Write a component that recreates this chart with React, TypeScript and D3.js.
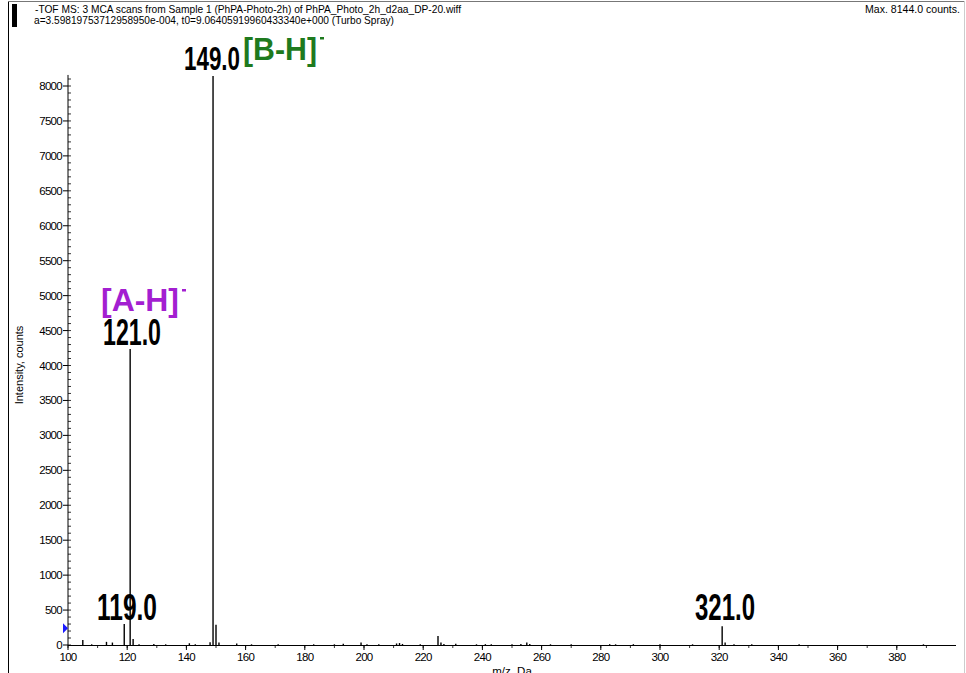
import React from "react";
import * as d3 from "d3";

const headerLine1 = "-TOF MS: 3 MCA scans from Sample 1 (PhPA-Photo-2h) of PhPA_Photo_2h_d2aa_DP-20.wiff";
const headerLine2 = "a=3.59819753712958950e-004, t0=9.06405919960433340e+000 (Turbo Spray)";
const maxLabel = "Max. 8144.0 counts.";
const xTicks = [100, 120, 140, 160, 180, 200, 220, 240, 260, 280, 300, 320, 340, 360, 380];
const yTicks = [0, 500, 1000, 1500, 2000, 2500, 3000, 3500, 4000, 4500, 5000, 5500, 6000, 6500, 7000, 7500, 8000];
const peakMz = [105, 108, 113, 115, 119, 121, 122, 124, 129, 133, 141, 143, 148, 149, 150, 151, 157, 162, 171, 183, 190, 193, 199, 201, 205, 211, 212, 213, 219, 225, 226, 227, 231, 238, 241, 243, 250, 253, 255, 256, 263, 270, 283, 285, 291, 300, 311, 321, 322, 325, 331, 347, 389];
const peakInt = [70, 10, 45, 35, 300, 4236, 85, 10, 15, 10, 25, 12, 40, 8144, 290, 35, 20, 10, 10, 10, 10, 18, 35, 12, 10, 22, 28, 15, 10, 130, 35, 15, 18, 10, 12, 10, 10, 15, 35, 15, 10, 10, 12, 10, 12, 10, 10, 270, 35, 10, 12, 10, 10];

const markerValue = 240;

export default function App() {
  const W = 966, H = 673;
  const x = d3.scaleLinear().domain([100, 400]).range([68, 956]);
  const y = d3.scaleLinear().domain([0, 8000]).range([645, 86]);
  const minorX = d3.range(100, 400, 10);
  const minorY = d3.range(0, 8200, 100);
  const font = "'Liberation Sans', Arial, sans-serif";
  const narrow = "'Liberation Sans Narrow', 'Liberation Sans', Arial, sans-serif";
  return (
    <svg width={W} height={H} style={{ position: "absolute", left: 0, top: 0, background: "#fff" }}>
      <rect x={0} y={0} width={W} height={H} fill="#fff" />
      {/* frame */}
      <line x1={8.5} y1={1} x2={8.5} y2={H} stroke="#000" strokeWidth={1} />
      <line x1={8} y1={1.5} x2={965} y2={1.5} stroke="#777" strokeWidth={1} />
      <line x1={964.5} y1={1} x2={964.5} y2={H} stroke="#ccc" strokeWidth={1} />
      <rect x={12} y={4} width={5} height={23} fill="#000" />
      <text x={35} y={13} fontFamily={narrow} fontSize={11} textLength={426} lengthAdjust="spacingAndGlyphs">{headerLine1}</text>
      <text x={34} y={24} fontFamily={narrow} fontSize={11} textLength={360} lengthAdjust="spacingAndGlyphs">{headerLine2}</text>
      <text x={960} y={13} fontFamily={narrow} fontSize={11} textAnchor="end" textLength={95} lengthAdjust="spacingAndGlyphs">{maxLabel}</text>

      {/* y axis */}
      <line x1={68} y1={y(8144) - 1} x2={68} y2={645} stroke="#000" />
      {minorY.map((v) => (
        <line key={"my" + v} x1={68} x2={71} y1={y(v)} y2={y(v)} stroke="#000" strokeWidth={0.8} />
      ))}
      {yTicks.map((v) => (
        <g key={"y" + v}>
          <line x1={63} x2={68} y1={y(v)} y2={y(v)} stroke="#000" />
          <text x={62} y={y(v) + 4} fontFamily={font} fontSize={11.5} textAnchor="end" letterSpacing={-0.7}>{v}</text>
        </g>
      ))}
      <text transform={`translate(23,${365}) rotate(-90)`} fontFamily={font} fontSize={11} textAnchor="middle">Intensity, counts</text>

      {/* x axis */}
      <line x1={68} x2={956} y1={645.5} y2={645.5} stroke="#000" />
      {minorX.map((v) => (
        <line key={"mx" + v} x1={x(v)} x2={x(v)} y1={645} y2={648} stroke="#000" strokeWidth={0.8} />
      ))}
      {xTicks.map((v) => (
        <g key={"x" + v}>
          <line x1={x(v)} x2={x(v)} y1={645} y2={650} stroke="#000" />
          <text x={x(v)} y={661} fontFamily={font} fontSize={11.5} textAnchor="middle" letterSpacing={-0.7}>{v}</text>
        </g>
      ))}
      <text x={512} y={675} fontFamily={font} fontSize={11.5} textAnchor="middle">m/z, Da</text>

      {/* peaks */}
      {peakMz.map((m, i) => (
        <line key={"p" + i} x1={x(m)} x2={x(m)} y1={645} y2={y(peakInt[i])} stroke="#000" strokeWidth={1.4} />
      ))}

      {/* marker */}
      <path d={`M63,${y(markerValue) - 5} L68,${y(markerValue)} L63,${y(markerValue) + 5} Z`} fill="#1a1aff" />

      {/* labels */}
      <text x={212} y={70} fontFamily={narrow} fontWeight="bold" fontSize={34} textAnchor="middle" textLength={56} lengthAdjust="spacingAndGlyphs">149.0</text>
      <text x={243} y={60} fontFamily={narrow} fontWeight="bold" fontSize={32} fill="#1e7a1e" textLength={74} lengthAdjust="spacingAndGlyphs">[B-H]</text>
      <rect x={320} y={37} width={4} height={2.5} fill="#1e7a1e" />
      <text x={101} y={311} fontFamily={narrow} fontWeight="bold" fontSize={32} fill="#a31fd1" textLength={78} lengthAdjust="spacingAndGlyphs">[A-H]</text>
      <rect x={182} y={289} width={4} height={2.5} fill="#a31fd1" />
      <text x={132} y={345} fontFamily={narrow} fontWeight="bold" fontSize={36} textAnchor="middle" textLength={58} lengthAdjust="spacingAndGlyphs">121.0</text>
      <text x={127} y={620} fontFamily={narrow} fontWeight="bold" fontSize={36} textAnchor="middle" textLength={60} lengthAdjust="spacingAndGlyphs">119.0</text>
      <text x={725} y={620} fontFamily={narrow} fontWeight="bold" fontSize={36} textAnchor="middle" textLength={60} lengthAdjust="spacingAndGlyphs">321.0</text>
    </svg>
  );
}
